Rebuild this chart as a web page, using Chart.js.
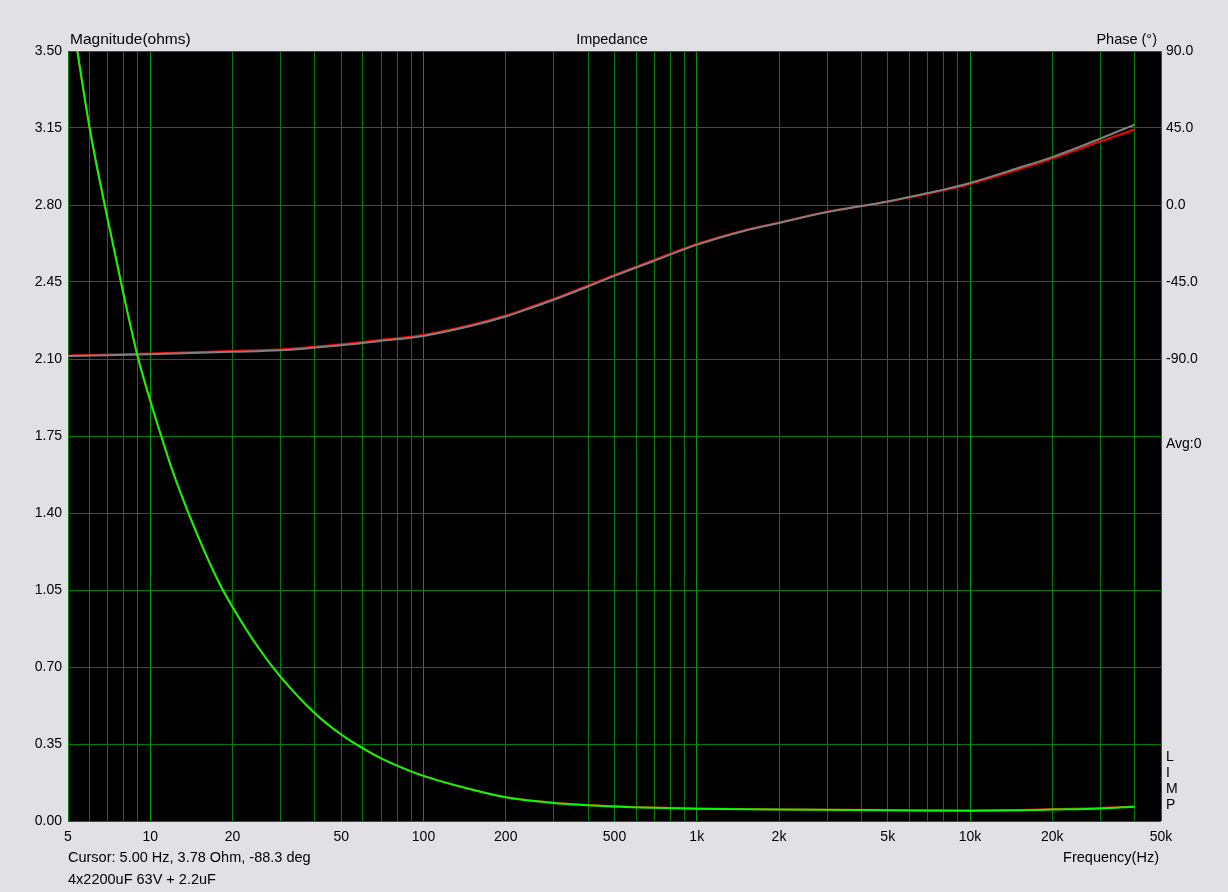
<!DOCTYPE html>
<html>
<head>
<meta charset="utf-8">
<title>Impedance</title>
<script src="https://cdn.jsdelivr.net/npm/chart.js@4.4.0/dist/chart.umd.min.js"></script>
<style>
  body { margin: 0; background: #e1e0e5; }
  #wrap { width: 1228px; height: 892px; position: relative; }
</style>
</head>
<body>
<div id="wrap"><canvas id="myChart"></canvas></div>
<script>
"use strict"

// magnitude trace (ohms)
const magFreqs = [5, 6, 7, 8, 9, 10, 11, 12, 14, 16, 18, 20, 25, 30, 40, 50, 60, 70, 80, 100, 150, 200, 300, 500, 700, 1000, 2000, 5000, 10000, 15000, 20000, 30000, 40000];
const magValues = [3.78, 3.15, 2.73, 2.39, 2.11, 1.91, 1.745, 1.60, 1.38, 1.21, 1.075, 0.973, 0.784, 0.655, 0.49, 0.393, 0.33, 0.285, 0.252, 0.205, 0.143, 0.108, 0.082, 0.066, 0.06, 0.056, 0.052, 0.049, 0.047, 0.049, 0.052, 0.057, 0.065];
const magValuesRed = [3.78, 3.15, 2.73, 2.39, 2.11, 1.91, 1.745, 1.60, 1.38, 1.21, 1.075, 0.973, 0.784, 0.655, 0.49, 0.393, 0.33, 0.285, 0.252, 0.205, 0.143, 0.108, 0.083, 0.067, 0.061, 0.057, 0.052, 0.050, 0.048, 0.050, 0.054, 0.059, 0.066];

// phase trace (degrees)
const phaseFreqs = [5, 7, 10, 20, 30, 50, 70, 100, 150, 200, 250, 300, 400, 500, 700, 1000, 1500, 2000, 3000, 4000, 5000, 6000, 7000, 8000, 10000, 15000, 20000, 30000, 40000];
const phaseValues = [-88.3, -87.8, -87.2, -85.8, -84.9, -81.9, -79.4, -76.5, -70.6, -65.2, -59.9, -55.4, -47.6, -41.4, -32.6, -23.3, -15.0, -10.5, -4.1, -0.6, 2.1, 4.7, 7.0, 9.0, 12.9, 21.6, 28.0, 38.8, 47.0];
const phaseValuesRed = [-87.9, -87.4, -86.8, -85.3, -84.4, -81.4, -78.8, -75.9, -70.0, -64.6, -59.3, -54.8, -47.0, -40.8, -32.0, -22.8, -14.7, -10.3, -4.0, -0.7, 1.9, 4.4, 6.6, 8.6, 12.3, 20.7, 27.1, 37.2, 44.1];

// axes
const freqTicks = [5, 6, 7, 8, 9, 10, 20, 30, 40, 50, 60, 70, 80, 90, 100, 200, 300, 400, 500, 600, 700, 800, 900, 1000, 2000, 3000, 4000, 5000, 6000, 7000, 8000, 9000, 10000, 20000, 30000, 40000, 50000];
const freqLabels = {5: "5", 10: "10", 20: "20", 50: "50", 100: "100", 200: "200", 500: "500", 1000: "1k", 2000: "2k", 5000: "5k", 10000: "10k", 20000: "20k", 50000: "50k"};
const magTicks = [0, 0.35, 0.70, 1.05, 1.40, 1.75, 2.10, 2.45, 2.80, 3.15, 3.50];
const phaseTicks = [90, 45, 0, -45, -90, -135, -180, -225, -270, -315, -360];
const phaseLabelled = [90, 45, 0, -45, -90];

const FAMILY = "'Liberation Sans', Arial, sans-serif";

function toPoints(xs, ys) {
    return xs.map((x, i) => ({x: x, y: ys[i]}));
}

function isDecade(v) {
    const l = Math.log10(v);
    return Math.abs(l - Math.round(l)) < 1e-9;
}

// black plot area + the loose texts round it
const frameTexts = {
    id: "frameTexts",
    beforeDraw(chart) {
        const a = chart.chartArea;
        const ctx = chart.ctx;
        ctx.save();
        ctx.fillStyle = "#000000";
        ctx.fillRect(a.left, a.top, a.right - a.left, a.bottom - a.top);
        ctx.restore();
    },
    afterDraw(chart) {
        const a = chart.chartArea;
        const ctx = chart.ctx;
        ctx.save();
        ctx.fillStyle = "#000000";
        ctx.textBaseline = "middle";

        ctx.textAlign = "left";
        ctx.font = "15.5px " + FAMILY;
        ctx.fillText("Magnitude(ohms)", a.left + 2, 40);
        ctx.font = "14.5px " + FAMILY;
        ctx.fillText("Cursor: 5.00 Hz, 3.78 Ohm, -88.3 deg", a.left, 858);
        ctx.fillText("4x2200uF 63V + 2.2uF", a.left, 880);
        ctx.font = "14px " + FAMILY;
        ctx.fillText("Avg:0", a.right + 5, 444);
        const limp = ["L", "I", "M", "P"];
        for (let i = 0; i < limp.length; i++) {
            ctx.fillText(limp[i], a.right + 5, 757 + i * 16);
        }

        ctx.font = "14.5px " + FAMILY;
        ctx.textAlign = "center";
        ctx.fillText("Impedance", 612, 40);

        ctx.textAlign = "right";
        ctx.fillText("Phase (°)", a.right - 4, 40);
        ctx.fillText("Frequency(Hz)", a.right - 2, 858);
        ctx.restore();
    }
};

const data = {
    datasets: [
        {
            label: "Magnitude",
            data: toPoints(magFreqs, magValues),
            borderColor: "#00ff00",
            borderWidth: 2,
            yAxisID: "y"
        },
        {
            label: "Phase",
            data: toPoints(phaseFreqs, phaseValues),
            borderColor: "#808080",
            borderWidth: 2,
            yAxisID: "yPhase"
        },
        {
            label: "Magnitude ref",
            data: toPoints(magFreqs, magValuesRed),
            borderColor: "#ff0000",
            borderWidth: 2,
            yAxisID: "y"
        },
        {
            label: "Phase ref",
            data: toPoints(phaseFreqs, phaseValuesRed),
            borderColor: "#ff0000",
            borderWidth: 2,
            yAxisID: "yPhase"
        }
    ]
};

const config = {
    type: "line",
    data: data,
    plugins: [frameTexts],
    options: {
        responsive: true,
        maintainAspectRatio: false,
        devicePixelRatio: 1,
        animation: false,
        elements: {
            point: { radius: 0 },
            line: { cubicInterpolationMode: "monotone", fill: false }
        },
        layout: { padding: { top: 51, left: 0, right: 0, bottom: 0 } },
        plugins: {
            legend: { display: false },
            title: { display: false },
            tooltip: { enabled: false }
        },
        scales: {
            x: {
                type: "logarithmic",
                min: 5,
                max: 50000,
                afterBuildTicks(scale) {
                    scale.ticks = freqTicks.map(v => ({value: v}));
                },
                afterFit(scale) { scale.height = 71; },
                ticks: {
                    autoSkip: false,
                    maxRotation: 0,
                    padding: 8,
                    color: "#000000",
                    font: { family: FAMILY, size: 14 },
                    callback: v => freqLabels[v] || ""
                },
                grid: {
                    drawTicks: false,
                    lineWidth: 1,
                    color: ctx => (ctx.tick && isDecade(ctx.tick.value)) ? "#009c00" : "#007c00"
                },
                border: { display: false }
            },
            y: {
                type: "linear",
                position: "left",
                min: 0,
                max: 3.5,
                afterBuildTicks(scale) {
                    scale.ticks = magTicks.map(v => ({value: v}));
                },
                afterFit(scale) { scale.width = 68; },
                ticks: {
                    padding: 6,
                    color: "#000000",
                    font: { family: FAMILY, size: 14 },
                    callback: v => v.toFixed(2)
                },
                grid: { drawTicks: false, color: "#007c00", lineWidth: 1 },
                border: { display: false }
            },
            yPhase: {
                type: "linear",
                position: "right",
                min: -360,
                max: 90,
                afterBuildTicks(scale) {
                    scale.ticks = phaseTicks.map(v => ({value: v}));
                },
                afterFit(scale) { scale.width = 67; },
                ticks: {
                    padding: 5,
                    color: "#000000",
                    font: { family: FAMILY, size: 14 },
                    callback: v => phaseLabelled.includes(v) ? v.toFixed(1) : ""
                },
                grid: { display: false, drawTicks: false },
                border: { display: false }
            }
        }
    }
};

const impedanceChart = new Chart(document.getElementById("myChart"), config);
</script>
</body>
</html>
